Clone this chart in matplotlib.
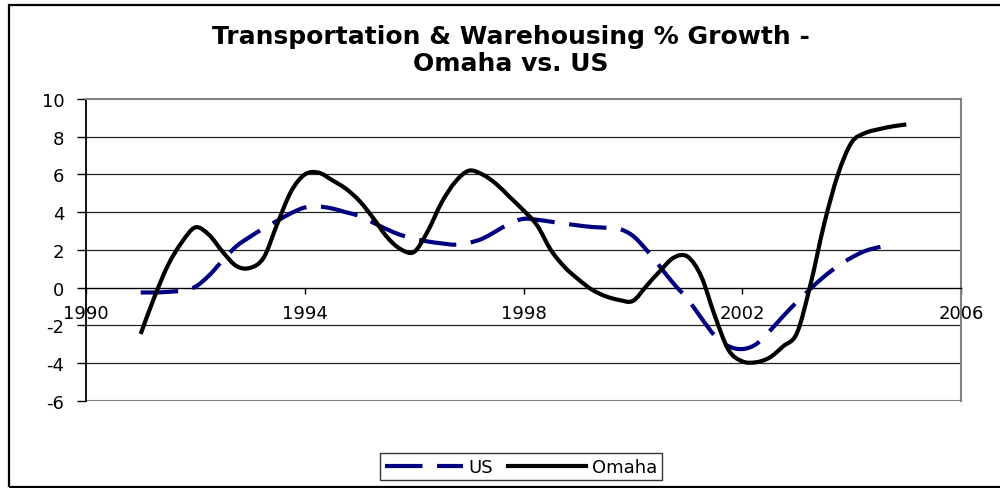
import matplotlib
matplotlib.use("Agg")
import matplotlib.pyplot as plt
import matplotlib.patches as patches
from matplotlib.path import Path
from matplotlib.lines import Line2D
import numpy as np

# quarterly % growth, 1991 Q1 onwards
omaha_years = 1991 + np.arange(57) * 0.25
omaha = [-2.45, -0.5, 1.2, 2.4,
         3.2, 2.8, 1.9, 1.15,
         1.05, 1.6, 3.4, 5.1,
         6.0, 6.1, 5.7, 5.25,
         4.6, 3.7, 2.7, 2.05,
         1.9, 3.0, 4.5, 5.6,
         6.2, 6.0, 5.5, 4.8,
         4.1, 3.3, 2.0, 1.1,
         0.45, -0.1, -0.45, -0.65,
         -0.7, 0.1, 0.9, 1.6,
         1.65, 0.6, -1.5, -3.3,
         -3.9, -3.95, -3.7, -3.1,
         -2.4, 0.2, 3.4, 6.0,
         7.7, 8.2, 8.4, 8.55,
         8.65]

us_years = 1991 + np.arange(56) * 0.25
us = [-0.25, -0.25, -0.22, -0.15,
      0.05, 0.65, 1.45, 2.2,
      2.7, 3.15, 3.55, 3.95,
      4.25, 4.3, 4.2, 4.0,
      3.8, 3.45, 3.1, 2.8,
      2.6, 2.45, 2.35, 2.28,
      2.38, 2.6, 3.0, 3.4,
      3.65, 3.6, 3.5, 3.4,
      3.3, 3.22, 3.18, 3.12,
      2.75, 2.0, 1.1, 0.2,
      -0.6, -1.6, -2.55, -3.1,
      -3.25, -3.0, -2.3, -1.5,
      -0.75, -0.05, 0.6, 1.15,
      1.6, 1.95, 2.15, 2.3]

x_ticks = [1990, 1994, 1998, 2002, 2006]
y_ticks = [-6, -4, -2, 0, 2, 4, 6, 8, 10]
title = "Transportation & Warehousing % Growth -\nOmaha vs. US"

US_COLOR = '#000080'
US_DASH = (0, (9, 3.5))


def smooth_path(x, y):
    """Bezier path through the points, like Excel's 'smoothed line'."""
    pts = np.column_stack([x, y]).astype(float)
    verts = [pts[0]]
    codes = [Path.MOVETO]
    n = len(pts)
    for i in range(n - 1):
        p0 = pts[i - 1] if i > 0 else pts[i]
        p1 = pts[i]
        p2 = pts[i + 1]
        p3 = pts[i + 2] if i + 2 < n else pts[i + 1]
        verts += [p1 + (p2 - p0) / 6.0, p2 - (p3 - p1) / 6.0, p2]
        codes += [Path.CURVE4] * 3
    return Path(verts, codes)


plt.rcParams['font.family'] = ['DejaVu Sans']

fig = plt.figure(figsize=(10, 4.89), dpi=100)
ax = fig.add_axes([0.086, 0.178, 0.875, 0.6175])

ax.set_xlim(1990, 2006)
ax.set_ylim(-6, 10)

# excel-like frame
ax.spines['bottom'].set_position(('data', 0))
ax.spines['bottom'].set_color('black')
ax.spines['bottom'].set_linewidth(1.0)
ax.spines['left'].set_color('black')
ax.spines['left'].set_linewidth(1.3)
ax.spines['top'].set_color('#808080')
ax.spines['top'].set_linewidth(1.5)
ax.spines['right'].set_color('#808080')
ax.spines['right'].set_linewidth(1.5)
ax.axhline(-6, color='#808080', linewidth=1.5, zorder=2)

# gridlines
for yv in y_ticks[1:-1]:
    if yv != 0:
        ax.axhline(yv, color='#222222', linewidth=0.9, zorder=1)

ax.add_patch(patches.PathPatch(smooth_path(us_years, us), fill=False,
                               edgecolor=US_COLOR, linewidth=3.0,
                               linestyle=US_DASH, capstyle='butt', zorder=3))
ax.add_patch(patches.PathPatch(smooth_path(omaha_years, omaha), fill=False,
                               edgecolor='black', linewidth=3.0,
                               capstyle='butt', joinstyle='round', zorder=4))

ax.set_xticks(x_ticks)
ax.set_yticks(y_ticks)
ax.set_xticklabels([str(v) for v in x_ticks])
ax.set_yticklabels([str(v) for v in y_ticks])
ax.tick_params(axis='y', direction='out', length=6.5, width=1.0, pad=9, labelsize=13)
ax.tick_params(axis='x', direction='out', length=4, width=1.0, pad=8, labelsize=13)

fig.text(0.511, 0.897, title, ha='center', va='center', fontsize=18,
         fontweight='bold', linespacing=1.12)

handles = [Line2D([], [], color=US_COLOR, linewidth=3.0, linestyle=US_DASH),
           Line2D([], [], color='black', linewidth=3.0)]
leg = fig.legend(handles, ['US', 'Omaha'], loc='center',
                 bbox_to_anchor=(0.521, 0.043), ncol=2,
                 fontsize=13, frameon=True, fancybox=False, handlelength=4.3,
                 handletextpad=0.35, columnspacing=0.8, borderpad=0.25,
                 borderaxespad=0)
leg.get_frame().set_edgecolor('black')
leg.get_frame().set_linewidth(1.0)

# chart border (right side runs off the image)
fig.patches.append(patches.Rectangle((0.009, 0.002), 1.1, 0.9857, fill=False,
                                     edgecolor='black', linewidth=1.6,
                                     transform=fig.transFigure, clip_on=False))

fig.savefig("out.png", dpi=100)
